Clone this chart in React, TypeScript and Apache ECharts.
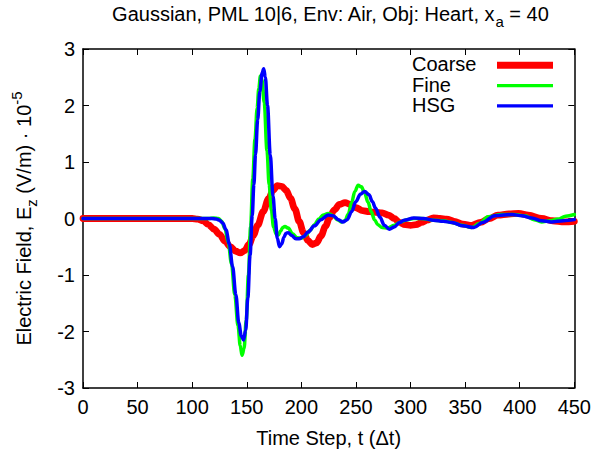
import React, { useEffect, useRef } from 'react';
import * as echarts from 'echarts';

// ---- data ----
const coarse: [number, number][] = [
  [0, 0], [50, 0], [100, 0], [105, -0.01], [110, -0.04], [115, -0.11], [120, -0.19], [125, -0.28],
  [130, -0.4], [135, -0.5], [140, -0.58], [144, -0.61], [148, -0.57], [152, -0.46], [156, -0.3],
  [160, -0.12], [165, 0.12], [170, 0.35], [174, 0.5], [178, 0.58], [182, 0.57], [186, 0.5],
  [190, 0.36], [194, 0.17], [198, -0.05], [202, -0.25], [206, -0.39], [210, -0.46], [214, -0.43],
  [218, -0.31], [222, -0.14], [226, 0.02], [230, 0.15], [235, 0.25], [240, 0.28], [245, 0.25],
  [250, 0.19], [256, 0.14], [262, 0.12], [268, 0.11], [274, 0.1], [280, 0.06], [285, 0.0],
  [290, -0.07], [295, -0.11], [300, -0.12], [305, -0.11], [310, -0.07], [315, -0.03], [321, 0.01],
  [327, 0.0], [333, -0.01], [340, -0.05], [348, -0.1], [356, -0.12], [364, -0.07], [372, 0.0],
  [380, 0.06], [390, 0.08], [399, 0.09], [408, 0.06], [420, 0.0], [430, -0.04], [441, -0.06],
  [450, -0.05],
];

const fine: [number, number][] = [
  [0, 0], [50, 0], [100, 0], [115, 0], [120, 0.01], [124, 0.0], [127, -0.05], [130, -0.18],
  [133, -0.42], [136, -0.8], [139, -1.35], [142, -1.9], [144, -2.25], [145.7, -2.42], [147.5, -2.3],
  [149.5, -1.8], [151.5, -1.0], [153.5, -0.15], [155.5, 0.7], [157.5, 1.4], [159.5, 1.95],
  [161, 2.3], [162.5, 2.52], [164, 2.45], [166, 2.05], [168.5, 1.2], [170.5, 0.6], [172.5, 0.15],
  [174.5, -0.15], [177, -0.28], [179, -0.29], [181, -0.22], [183, -0.16], [185, -0.14],
  [188, -0.17], [192, -0.27], [196, -0.34], [200, -0.35], [204, -0.3], [208, -0.21], [212, -0.11],
  [216, -0.01], [220, 0.06], [224.5, 0.09], [229, 0.05], [233, -0.02], [237, -0.06], [240, -0.04],
  [243, 0.08], [246, 0.28], [249, 0.48], [252, 0.59], [255, 0.56], [258, 0.45], [261, 0.29],
  [264, 0.12], [267, -0.02], [270, -0.11], [274, -0.16], [279, -0.17], [285, -0.12], [291, -0.06],
  [297, -0.02], [303, 0.0], [310, 0.0], [321, -0.03], [330, -0.04], [338, -0.07], [347, -0.12],
  [356, -0.16], [363, -0.09], [371, 0.03], [383, 0.07], [395, 0.07], [405, 0.05], [413, -0.02],
  [420, -0.06], [428, -0.04], [435, -0.01], [442, 0.04], [450, 0.07],
];

const hsg: [number, number][] = [
  [0, 0], [50, 0], [100, 0], [118, 0], [122, -0.01], [125, -0.03], [128, -0.08], [131, -0.2],
  [134, -0.45], [137, -0.85], [140, -1.35], [142.7, -1.85], [145, -2.08], [147, -2.15],
  [149, -1.98], [151, -1.4], [153, -0.65], [155, 0.05], [156.5, 0.6], [158, 1.13], [160, 1.75],
  [162, 2.25], [164, 2.57], [165.5, 2.65], [167, 2.5], [169, 2.0], [171.5, 1.13], [174, 0.4],
  [176, 0.0], [178, -0.35], [180, -0.5], [182, -0.45], [184, -0.33], [186, -0.26], [188, -0.25],
  [191, -0.3], [195, -0.36], [198, -0.36], [202, -0.32], [206, -0.24], [212, -0.13], [218, -0.02],
  [224.5, 0.06], [229, 0.05], [234, -0.02], [238, -0.06], [242, -0.02], [246, 0.12], [250, 0.3],
  [254, 0.43], [258, 0.48], [262, 0.42], [265, 0.3], [268, 0.18], [272, 0.02], [276, -0.12],
  [280.6, -0.19], [285, -0.15], [290, -0.07], [294, -0.03], [303, 0.01], [312, 0.0], [321, -0.03],
  [330, -0.05], [338, -0.07], [348, -0.13], [358, -0.16], [366, -0.07], [377, 0.05], [393, 0.07],
  [402, 0.05], [411, 0.01], [420, -0.04], [429, -0.06], [440, -0.04], [450, -0.02],
];

const seriesNames = ['Coarse', 'Fine', 'HSG'];
const seriesData = [coarse, fine, hsg];

const X_MIN = 0;
const X_MAX = 450;
const X_STEP = 50;
const Y_MIN = -3;
const Y_MAX = 3;
const Y_STEP = 1;

// ---- styles ----
const FONT = "'Liberation Sans', Arial, Helvetica, sans-serif";
const COLORS = ['#ff0000', '#00ff00', '#0000ff'];
const WIDTHS = [6.8, 3.5, 3.5];
const LEGEND_WIDTHS = [7, 3.3, 3.3];

export default function App() {
  const ref = useRef<HTMLDivElement>(null);

  useEffect(() => {
    const chart = echarts.init(ref.current!, null, { renderer: 'svg' });

    const subRich = {
      m: { fontSize: 20, lineHeight: 22, fontFamily: FONT, color: '#000', verticalAlign: 'middle' },
      s: { fontSize: 15, lineHeight: 15, fontFamily: FONT, color: '#000', verticalAlign: 'middle', padding: [15, 0, 0, 0] },
      p: { fontSize: 15, lineHeight: 15, fontFamily: FONT, color: '#000', verticalAlign: 'middle', padding: [0, 0, 15, 0] },
    };

    const axisCommon = {
      axisLine: { show: true, onZero: false, lineStyle: { color: '#000', width: 1.5 } },
      axisTick: { show: true, inside: true, length: 6, lineStyle: { color: '#000', width: 1 } },
      splitLine: { show: false },
    };

    const legendGraphics: any[] = [];
    seriesNames.forEach((name, i) => {
      const cy = 65.3 + i * 20.3;
      legendGraphics.push({
        type: 'text',
        left: 412,
        top: cy - 11,
        style: { text: name, fontSize: 20, fontFamily: FONT, fill: '#000' },
        z: 100,
      });
      legendGraphics.push({
        type: 'line',
        shape: { x1: 497, y1: cy, x2: 553, y2: cy },
        style: { stroke: COLORS[i], lineWidth: LEGEND_WIDTHS[i] },
        z: 100,
      });
    });

    const option: any = {
      animation: false,
      backgroundColor: '#fff',
      title: {
        text: '{m|Gaussian, PML 10|6, Env: Air, Obj: Heart, x}{s|a}{m| = 40}',
        left: 330,
        top: 3,
        padding: 0,
        textAlign: 'center',
        textStyle: { fontSize: 20, fontWeight: 'normal', fontFamily: FONT, color: '#000', rich: subRich },
      },
      grid: { left: 83, right: 16, top: 49, bottom: 61, containLabel: false },
      xAxis: [
        {
          type: 'value',
          position: 'bottom',
          min: X_MIN,
          max: X_MAX,
          interval: X_STEP,
          ...axisCommon,
          axisLabel: { show: true, fontSize: 20, color: '#000', fontFamily: FONT, margin: 9 },
          name: 'Time Step, t (\u0394t)',
          nameLocation: 'middle',
          nameGap: 40,
          nameTextStyle: { fontSize: 20, color: '#000', fontFamily: FONT },
        },
        {
          type: 'value',
          position: 'top',
          min: X_MIN,
          max: X_MAX,
          interval: X_STEP,
          ...axisCommon,
          axisLabel: { show: false },
        },
      ],
      yAxis: [
        {
          type: 'value',
          position: 'left',
          min: Y_MIN,
          max: Y_MAX,
          interval: Y_STEP,
          ...axisCommon,
          axisLabel: { show: true, fontSize: 20, color: '#000', fontFamily: FONT, margin: 8 },
          name: '{m|Electric Field, E}{s|z}{m| (V/m) \u00b7 10}{p|-5}',
          nameLocation: 'middle',
          nameGap: 48,
          nameRotate: 90,
          nameTextStyle: { fontSize: 20, color: '#000', fontFamily: FONT, rich: subRich },
        },
        {
          type: 'value',
          position: 'right',
          min: Y_MIN,
          max: Y_MAX,
          interval: Y_STEP,
          ...axisCommon,
          axisLabel: { show: false },
        },
      ],
      series: seriesNames.map((name, i) => ({
        name,
        type: 'line',
        xAxisIndex: 0,
        yAxisIndex: 0,
        data: seriesData[i],
        showSymbol: false,
        symbol: 'none',
        smooth: 0.35,
        smoothMonotone: 'x',
        lineStyle: { color: COLORS[i], width: WIDTHS[i], cap: 'round', join: 'round' },
        itemStyle: { color: COLORS[i] },
        z: 2 + i,
        silent: true,
      })),
      graphic: legendGraphics,
    };

    chart.setOption(option);
    return () => chart.dispose();
  }, []);

  return (
    <div
      ref={ref}
      style={{ position: 'fixed', left: 0, top: 0, width: 594, height: 453, background: '#fff' }}
    />
  );
}
